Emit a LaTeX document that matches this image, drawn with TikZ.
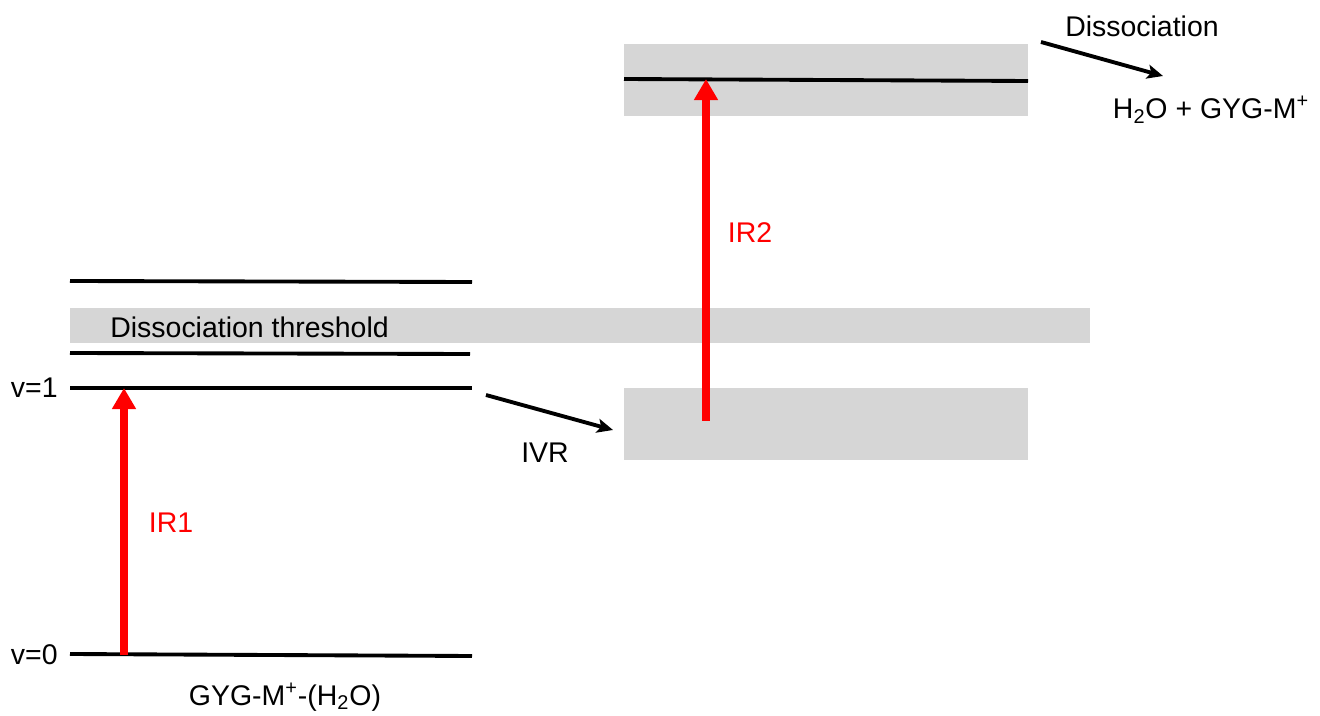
\documentclass[tikz,border=0pt]{standalone}
\usepackage{fontspec}
\setmainfont{Liberation Sans}
\usetikzlibrary{arrows.meta}
\definecolor{bandgray}{RGB}{214,214,214}
\definecolor{irred}{RGB}{255,0,0}
\begin{document}
\begin{tikzpicture}[x=0.02cm,y=-0.02cm,
  lvl/.style={line width=2.2pt,black},
  band/.style={fill=bandgray,draw=none},
  irarrow/.style={draw=irred,line width=4pt,-{Triangle[length=12pt,width=13pt]}},
  blkarrow/.style={draw=black,line width=2.2pt,-{Stealth[length=9pt,width=8pt,inset=2pt]}},
  lbl/.style={font=\fontsize{16.2}{18}\selectfont,inner sep=0pt},
  irlbl/.style={lbl,text=irred}]
\useasboundingbox (0,0) rectangle (1320,716);
% bands
\fill[band] (624,44) rectangle (1028,116);
\fill[band] (70,308) rectangle (1090,343);
\fill[band] (624,388) rectangle (1028,460);
% levels
\coordinate (t0) at (624,79); \coordinate (t1) at (1028,81);
\draw[lvl] (t0) -- (t1);
\coordinate (a0) at (70,281); \coordinate (a1) at (472,282);
\draw[lvl] (a0) -- (a1);
\coordinate (b0) at (70,353); \coordinate (b1) at (470,354);
\draw[lvl] (b0) -- (b1);
\coordinate (v1l) at (70,388); \coordinate (v1r) at (472,388);
\draw[lvl] (v1l) -- (v1r);
\coordinate (v0l) at (70,654); \coordinate (v0r) at (472,656);
\draw[lvl] (v0l) -- (v0r);
% texts
\node[lbl,anchor=west] (thr) at (110,327) {Dissociation threshold};
\node[lbl,anchor=east] (v1) at (58,388) {v=1};
\node[lbl,anchor=east] (v0) at (58,655) {v=0};
\node[lbl] (mol) at (285,697) {GYG-M\textsuperscript{+}-(H\textsubscript{2}O)};
\node[irlbl] (ir1) at (171,523) {IR1};
\node[irlbl] (ir2) at (750,233) {IR2};
\node[lbl] (ivr) at (545,453) {IVR};
\node[lbl] (dis) at (1142,26) {Dissociation};
\node[lbl] (prod) at (1211,110) {H\textsubscript{2}O + GYG-M\textsuperscript{+}};
% IR arrows
\coordinate (ir1s) at (124,655); \coordinate (ir1e) at (124,388);
\draw[irarrow] (ir1s) -- (ir1e);
\coordinate (ir2s) at (706,421); \coordinate (ir2e) at (706,79);
\draw[irarrow] (ir2s) -- (ir2e);
% black arrows
\coordinate (ivrs) at (486,395); \coordinate (ivre) at (613,430);
\draw[blkarrow] (ivrs) -- (ivre);
\coordinate (diss) at (1041,42); \coordinate (dise) at (1163,76);
\draw[blkarrow] (diss) -- (dise);
\end{tikzpicture}
\end{document}
